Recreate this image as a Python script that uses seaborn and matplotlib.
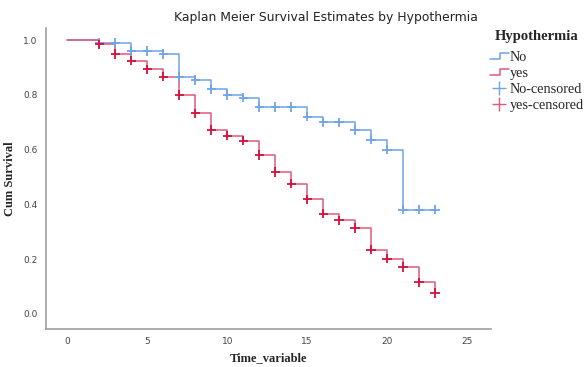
import pandas as pd
import matplotlib.pyplot as plt
import seaborn as sns
from matplotlib.lines import Line2D
from matplotlib.legend_handler import HandlerBase

times = list(range(0, 24))
surv_no = [1.0, 1.0, 0.99, 0.99, 0.96, 0.96, 0.95, 0.865, 0.855, 0.82, 0.80, 0.79,
           0.756, 0.756, 0.756, 0.72, 0.70, 0.70, 0.672, 0.636, 0.60, 0.38, 0.38, 0.38]
surv_yes = [1.0, 1.0, 0.985, 0.95, 0.925, 0.894, 0.867, 0.80, 0.733, 0.672, 0.651, 0.633,
            0.58, 0.518, 0.476, 0.418, 0.366, 0.341, 0.314, 0.234, 0.201, 0.171, 0.115, 0.076]
censor_times = list(range(2, 24))

blue = '#6fa4e6'
red_line = '#e0587a'
red_mark = '#d4123e'

df = pd.concat([
    pd.DataFrame({'time': times, 'surv': surv_no, 'group': 'No'}),
    pd.DataFrame({'time': times, 'surv': surv_yes, 'group': 'yes'}),
])
cens = df[df['time'].isin(censor_times)]

sns.set_style('white')
fig = plt.figure(figsize=(5.88, 3.67), dpi=100)
ax = fig.add_axes([0.078, 0.104, 0.757, 0.82])

sns.lineplot(data=df, x='time', y='surv', hue='group', palette={'No': blue, 'yes': red_line},
             estimator=None, drawstyle='steps-post', linewidth=1.1, legend=False, ax=ax)
sns.scatterplot(data=cens, x='time', y='surv', hue='group',
                palette={'No': blue, 'yes': red_mark}, marker='+', s=45, linewidth=1.3,
                legend=False, ax=ax, zorder=3)

ax.set_xlim(-1.35, 26.5)
ax.set_ylim(-0.055, 1.045)
ax.set_xticks([0, 5, 10, 15, 20, 25])
ax.set_yticks([0.0, 0.2, 0.4, 0.6, 0.8, 1.0])
ax.set_yticklabels(['0.0', '0.2', '0.4', '0.6', '0.8', '1.0'])
ax.tick_params(axis='both', length=0, labelsize=6.5, labelcolor='#444444', pad=6)
for s in ['top', 'right']:
    ax.spines[s].set_visible(False)
for s in ['left', 'bottom']:
    ax.spines[s].set_color('#a0a0a0')
    ax.spines[s].set_linewidth(1.2)

ax.set_xlabel('Time_variable', family='Liberation Serif', fontweight='bold', fontsize=9, labelpad=4)
ax.set_ylabel('Cum Survival', family='Liberation Serif', fontweight='bold', fontsize=9, labelpad=5)
fig.text(0.555, 0.953, 'Kaplan Meier Survival Estimates by Hypothermia', ha='center', va='center',
         fontsize=8.9, color='#222222', family='DejaVu Sans')


class StepHandler(HandlerBase):
    def create_artists(self, legend, orig_handle, xdescent, ydescent, width, height, fontsize, trans):
        w, h = width, height
        xs = [0, w * 0.55, w * 0.55, w]
        ys = [h * 0.2, h * 0.2, h * 0.85, h * 0.85]
        line = Line2D(xs, ys, color=orig_handle.get_color(), linewidth=1.1, transform=trans)
        return [line]


handles = [
    Line2D([], [], color=blue),
    Line2D([], [], color=red_line),
    Line2D([], [], color=blue, marker='+', linestyle='none', markersize=10),
    Line2D([], [], color=red_line, marker='+', linestyle='none', markersize=10),
]
labels = ['No', 'yes', 'No-censored', 'yes-censored']
leg = fig.legend(handles, labels, loc='upper left', bbox_to_anchor=(0.833, 0.918), frameon=False,
                 title='Hypothermia', handlelength=1.35, handletextpad=0.05, labelspacing=0.2,
                 borderaxespad=0, borderpad=0, prop={'family': 'Liberation Serif', 'size': 10.3},
                 handler_map={handles[0]: StepHandler(), handles[1]: StepHandler()})
leg.get_title().set_fontfamily('Liberation Serif')
leg.get_title().set_fontweight('bold')
leg.get_title().set_fontsize(10.5)
leg._legend_box.sep = 6

fig.savefig('out.png', dpi=100)
